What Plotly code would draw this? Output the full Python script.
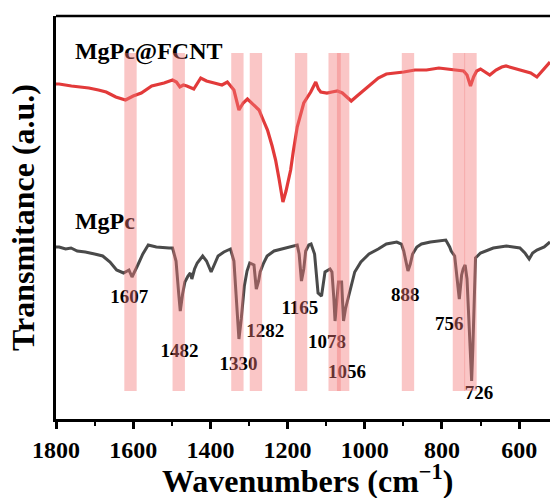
import plotly.graph_objects as go

# MgPc@FCNT spectrum (wavenumber, transmittance a.u.)
red_w = [1800, 1792, 1760, 1715, 1690, 1670, 1645, 1620, 1600, 1579, 1552, 1520, 1498, 1488, 1479,
         1470, 1461, 1443, 1425, 1410, 1390, 1370, 1356, 1348, 1339, 1326, 1315, 1304, 1290, 1274,
         1262, 1252, 1240, 1231, 1222, 1212, 1204, 1192, 1185, 1175, 1158, 1140, 1127, 1120, 1114,
         1098, 1085, 1071, 1058, 1045, 1035, 1020, 1008, 985, 965, 944, 920, 899, 870, 840, 808,
         781, 760, 744, 735, 726, 718, 710, 700, 688, 676, 660, 645, 634, 615, 591, 570, 554, 540,
         530, 520]
red_t = [335, 335, 333, 331, 329, 327, 322, 319, 323, 326, 333, 336, 339, 337, 332,
         334, 333, 330, 341, 338, 336, 334, 337, 333, 329, 309, 316, 320, 315, 309,
         298, 289, 273, 259, 240, 217, 228, 249, 268, 292, 316, 327, 337, 330, 327,
         326, 327, 328, 326, 321, 318, 323, 327, 335, 341, 345, 346, 347, 349, 349, 351,
         350, 349, 348, 344, 333, 342, 348, 350, 347, 344, 349, 352, 353, 351, 349, 346, 342, 348,
         353, 357]

# MgPc spectrum
gray_w = [1800, 1792, 1775, 1761, 1745, 1724, 1700, 1679, 1660, 1643, 1625, 1615, 1611, 1603, 1595,
          1588, 1575, 1561, 1540, 1520, 1507, 1498, 1489, 1482, 1478, 1472, 1466, 1458, 1452, 1448,
          1441, 1434, 1420, 1410, 1398, 1389, 1380, 1365, 1348, 1339, 1332, 1326, 1320, 1312, 1305,
          1298, 1287, 1281, 1275, 1271, 1262, 1253, 1235, 1216, 1195, 1175, 1170, 1164, 1158, 1153,
          1145, 1139, 1130, 1124, 1121, 1112, 1108, 1103, 1090, 1085, 1080, 1077, 1072, 1068, 1060,
          1058, 1055, 1050, 1044, 1035, 1026, 1010, 989, 965, 944, 917, 905, 899, 893, 888,
          882, 876, 865, 853, 830, 810, 790, 780, 776, 767, 760, 755, 750, 749, 745,
          740, 735, 730, 726, 723, 720, 716, 713, 700, 667, 633, 598, 585, 574, 565,
          554, 535, 520]
gray_t = [172, 172, 170, 171, 168, 167, 165, 163, 157, 149, 146, 148, 149, 142, 148,
          154, 165, 174, 172, 171, 171, 171, 158, 125, 108, 125, 137, 143, 146, 140,
          150, 156, 163, 158, 147, 155, 163, 167, 170, 158, 120, 80, 100, 133, 148,
          156, 154, 130, 138, 147, 156, 163, 168, 170, 172, 174, 165, 138, 150, 168,
          174, 175, 165, 140, 126, 123, 135, 147, 150, 147, 120, 98, 120, 137, 137,
          120, 98, 110, 119, 135, 147, 157, 165, 170, 175, 177, 175, 168, 155, 148,
          155, 165, 172, 175, 177, 178, 179, 172, 168, 163, 140, 120, 140, 144, 150,
          154, 140, 90, 50, 38, 70, 130, 161, 166, 171, 173, 171, 166, 160, 166,
          169, 172, 177]

# highlighted bands / peak labels
band_centers = [1607, 1482, 1330, 1282, 1165, 1078, 1056, 888, 756, 726]
peak_labels = ["1607", "1482", "1330", "1282", "1165", "1078", "1056", "888", "756", "726"]
label_w = [1610, 1480, 1327, 1258, 1168, 1098, 1046, 895, 781, 704]
label_t = [121, 67, 54, 87, 110, 76, 46, 123, 94, 25]

sample_names = ["MgPc@FCNT", "MgPc"]
sample_w = [1751, 1751]
sample_t = [366, 196]

x_ticks = [1800, 1600, 1400, 1200, 1000, 800, 600]
x_title = "Wavenumbers (cm<sup>−1</sup>)"
y_title = "Transmitance (a.u.)"

serif = "Liberation Serif"

fig = go.Figure()
fig.add_trace(go.Scatter(x=red_w, y=red_t, mode="lines",
                         line=dict(color="#e23a3a", width=3.2), showlegend=False))
fig.add_trace(go.Scatter(x=gray_w, y=gray_t, mode="lines",
                         line=dict(color="#4a4a4a", width=3), showlegend=False))
fig.add_trace(go.Scatter(x=label_w, y=label_t, mode="text", text=peak_labels,
                         textposition="middle center",
                         textfont=dict(family=serif, size=19, color="black", weight="bold"),
                         showlegend=False))
fig.add_trace(go.Scatter(x=sample_w, y=sample_t, mode="text", text=sample_names,
                         textposition="middle right",
                         textfont=dict(family=serif, size=24, color="black", weight="bold"),
                         showlegend=False))

for c in band_centers:
    fig.add_shape(type="rect", xref="x", yref="y", x0=c + 16, x1=c - 16, y0=28, y1=366,
                  fillcolor="rgba(242,120,120,0.42)", line=dict(width=0), layer="above")

# top border
fig.add_shape(type="line", xref="paper", yref="paper", x0=0, x1=1, y0=1, y1=1,
              line=dict(color="black", width=2.5))

# x-axis title as annotation below tick labels
fig.add_annotation(text=x_title, xref="paper", yref="paper", x=0.509, y=-0.148,
                   xanchor="center", yanchor="middle", showarrow=False,
                   font=dict(family=serif, size=32, color="black", weight="bold"))

fig.update_layout(
    width=550, height=498,
    margin=dict(l=56, r=0, t=16, b=79),
    plot_bgcolor="white", paper_bgcolor="white",
    xaxis=dict(range=[1800, 520], showgrid=False, zeroline=False, automargin=False,
               showline=True, linecolor="black", linewidth=2.5,
               ticks="outside", ticklen=7, tickwidth=2.5, tickcolor="black",
               tickvals=x_ticks,
               tickfont=dict(family=serif, size=24, color="black", weight="bold"),
               minor=dict(ticks="outside", ticklen=4, tickwidth=2, tickcolor="black",
                          dtick=100, showgrid=False)),
    yaxis=dict(range=[0, 403], showgrid=False, zeroline=False, showticklabels=False,
               automargin=False,
               showline=True, linecolor="black", linewidth=2.5, ticks="",
               title=dict(text=y_title, standoff=10,
                          font=dict(family=serif, size=32, color="black", weight="bold"))),
)

fig.write_html("out.html", config={"displayModeBar": False},
               post_script="document.body.style.margin='0';document.body.style.overflow='hidden';")
